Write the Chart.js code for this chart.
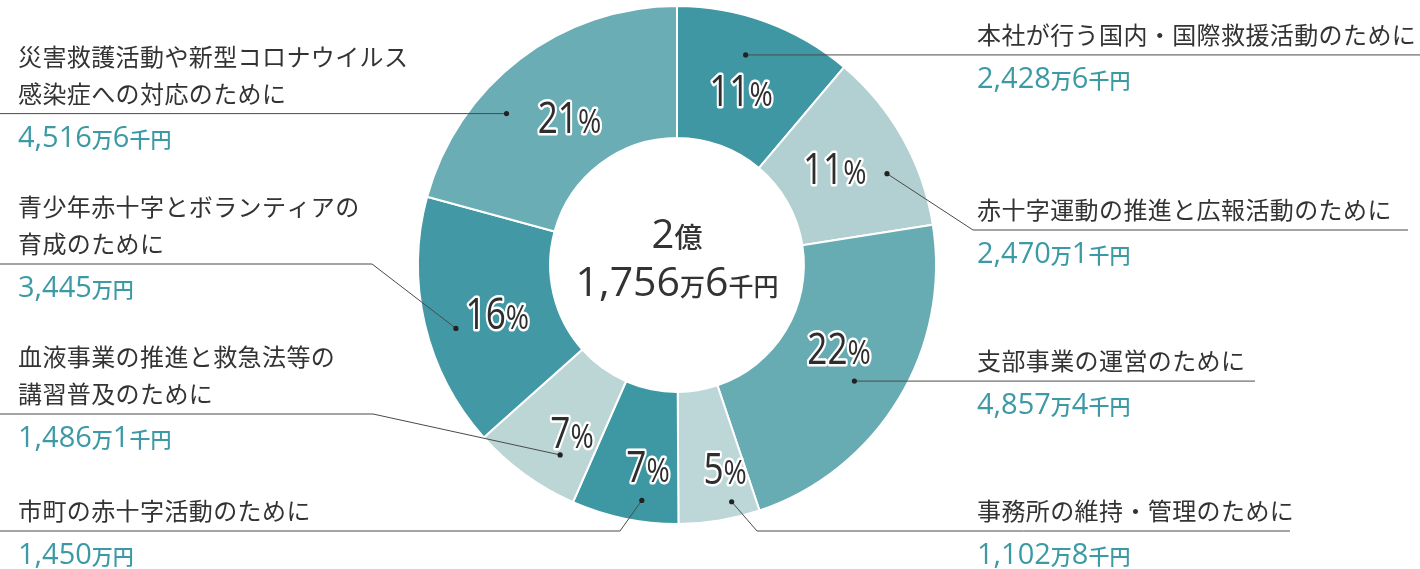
<!DOCTYPE html>
<html lang="ja">
<head>
<meta charset="utf-8">
<script src="https://cdn.jsdelivr.net/npm/chart.js@4.4.1/dist/chart.umd.min.js"></script>
<style>
  html, body { margin: 0; padding: 0; background: #fff; }
  canvas { display: block; }
</style>
</head>
<body>
<canvas id="donationChart" width="1420" height="569"></canvas>
<script>
// use of funds, in 万円, clockwise from 12 o'clock
const categories = [
  "本社が行う国内・国際救援活動のために",
  "赤十字運動の推進と広報活動のために",
  "支部事業の運営のために",
  "事務所の維持・管理のために",
  "市町の赤十字活動のために",
  "血液事業の推進と救急法等の\n講習普及のために",
  "青少年赤十字とボランティアの\n育成のために",
  "災害救護活動や新型コロナウイルス\n感染症への対応のために",
];
const amounts = [2428.6, 2470.1, 4857.4, 1102.8, 1450, 1486.1, 3445, 4516.6];
const amountLabels = [
  "2,428万6千円",
  "2,470万1千円",
  "4,857万4千円",
  "1,102万8千円",
  "1,450万円",
  "1,486万1千円",
  "3,445万円",
  "4,516万6千円",
];
const totalLabel = ["2億", "1,756万6千円"];
const sliceColors = ["#3f97a3", "#b2d0d2", "#67abb3", "#bdd7d8", "#3e98a4", "#bcd5d5", "#4298a4", "#6aadb5"];

// where each callout sits (polar positions are relative to the doughnut centre)
const percentPos = [[-69.9, 186], [-31.5, 185], [27.1, 182], [76.7, 209], [98.2, 203], [122.2, 197], [165, 186], [234, 183]];
const callouts = [
  { side: "right", lineY: 55, endX: 1420, dot: [-71.9, 221] },
  { side: "right", lineY: 230, endX: 1408, elbowX: 973, dot: [-23.5, 229] },
  { side: "right", lineY: 381, endX: 1255, dot: [33.2, 212] },
  { side: "right", lineY: 531, endX: 1290, elbowX: 757, dot: [77, 243] },
  { side: "left", lineY: 531, endX: 0, elbowX: 620, dot: [98.5, 238] },
  { side: "left", lineY: 414, endX: 0, elbowX: 373, dot: [121.6, 223] },
  { side: "left", lineY: 264, endX: 0, elbowX: 372, dot: [164, 230] },
  { side: "left", lineY: 114, endX: 0, dot: [221.6, 228] },
];

const total = amounts.reduce((a, b) => a + b, 0);
const LATIN = "'Open Sans', 'Noto Sans', sans-serif";
const CJK = "'Noto Sans CJK JP', 'Noto Sans', sans-serif";

function polar(arc, deg, r) {
  const a = deg * Math.PI / 180;
  return { x: arc.x + r * Math.cos(a), y: arc.y + r * Math.sin(a) };
}

// split "1,450万円" into digit runs and unit runs with their own fonts
function splitRuns(str, digitFont, unitFont, digitSx, unitSx) {
  return str.match(/[0-9,]+|[^0-9,]+/g).map((t) => {
    const isNum = /[0-9]/.test(t);
    return { text: t, font: isNum ? digitFont : unitFont, sx: isNum ? digitSx : unitSx };
  });
}

function drawRuns(ctx, runs, x, baseline, align, stroke) {
  const widths = runs.map((r) => {
    ctx.font = r.font;
    return ctx.measureText(r.text).width * (r.sx || 1);
  });
  const w = widths.reduce((a, b) => a + b, 0);
  const start = align === "center" ? x - w / 2 : x;
  const passes = stroke ? ["stroke", "fill"] : ["fill"];
  passes.forEach((pass) => {
    let cx = start;
    runs.forEach((r, i) => {
      ctx.save();
      ctx.font = r.font;
      ctx.textAlign = "left";
      ctx.textBaseline = "alphabetic";
      ctx.translate(cx, baseline);
      ctx.scale(r.sx || 1, 1);
      if (pass === "stroke") ctx.strokeText(r.text, 0, 0);
      else ctx.fillText(r.text, 0, 0);
      ctx.restore();
      cx += widths[i];
    });
  });
}

const calloutPlugin = {
  id: "calloutPlugin",
  afterDatasetsDraw(chart) {
    const ctx = chart.ctx;
    const arcs = chart.getDatasetMeta(0).data;
    const centre = arcs[0];

    // centre total
    ctx.fillStyle = "#333";
    drawRuns(ctx, [
      { text: "2", font: `500 40px ${LATIN}` },
      { text: "億", font: `500 28px ${CJK}` },
    ], centre.x, centre.y - 17, "center");
    drawRuns(ctx, splitRuns(totalLabel[1], `500 41px ${LATIN}`, `500 25px ${CJK}`), centre.x, centre.y + 31, "center");

    arcs.forEach((arc, i) => {
      // percent inside the slice
      const pct = Math.round(amounts[i] / total * 100);
      const p = polar(arc, percentPos[i][0], percentPos[i][1]);
      ctx.fillStyle = "#2e2e2e";
      ctx.strokeStyle = "#fff";
      ctx.lineWidth = 5;
      ctx.lineJoin = "round";
      drawRuns(ctx, [
        { text: String(pct), font: `500 44px ${LATIN}`, sx: 0.8 },
        { text: "%", font: `500 32px ${LATIN}`, sx: 0.88 },
      ], p.x, p.y + 16, "center", true);

      // leader line and dot
      const c = callouts[i];
      const d = polar(arc, c.dot[0], c.dot[1]);
      const ly = c.elbowX === undefined ? d.y : c.lineY;
      ctx.strokeStyle = "#4a4a4a";
      ctx.lineWidth = 1;
      ctx.beginPath();
      ctx.moveTo(d.x, d.y);
      if (c.elbowX !== undefined) ctx.lineTo(c.elbowX, ly);
      ctx.lineTo(c.endX, ly);
      ctx.stroke();
      ctx.fillStyle = "#222";
      ctx.beginPath();
      ctx.arc(d.x, d.y, 2.6, 0, Math.PI * 2);
      ctx.fill();

      // label text and amount
      const tx = c.side === "right" ? 977 : 18;
      const lines = categories[i].split("\n");
      ctx.save();
      ctx.font = `400 24px ${CJK}`;
      ctx.letterSpacing = "0.4px";
      ctx.fillStyle = "#333";
      ctx.textAlign = "left";
      ctx.textBaseline = "middle";
      lines.forEach((t, k) => {
        ctx.fillText(t, tx, ly - 20 - (lines.length - 1 - k) * 37);
      });
      ctx.restore();
      ctx.fillStyle = "#3c9aa5";
      drawRuns(ctx, splitRuns(amountLabels[i], `500 29px ${LATIN}`, `500 21px ${CJK}`), tx, ly + 33, "left");
    });
  },
};

new Chart(document.getElementById("donationChart"), {
  type: "doughnut",
  data: {
    labels: categories,
    datasets: [{
      data: amounts,
      backgroundColor: sliceColors,
      borderColor: "#fff",
      borderWidth: 2,
      hoverOffset: 0,
    }],
  },
  options: {
    responsive: false,
    animation: false,
    cutout: "49%",
    layout: { padding: { left: 417, right: 483, top: 5, bottom: 44 } },
    plugins: {
      legend: { display: false },
      tooltip: { enabled: false },
    },
  },
  plugins: [calloutPlugin],
});
</script>
</body>
</html>
